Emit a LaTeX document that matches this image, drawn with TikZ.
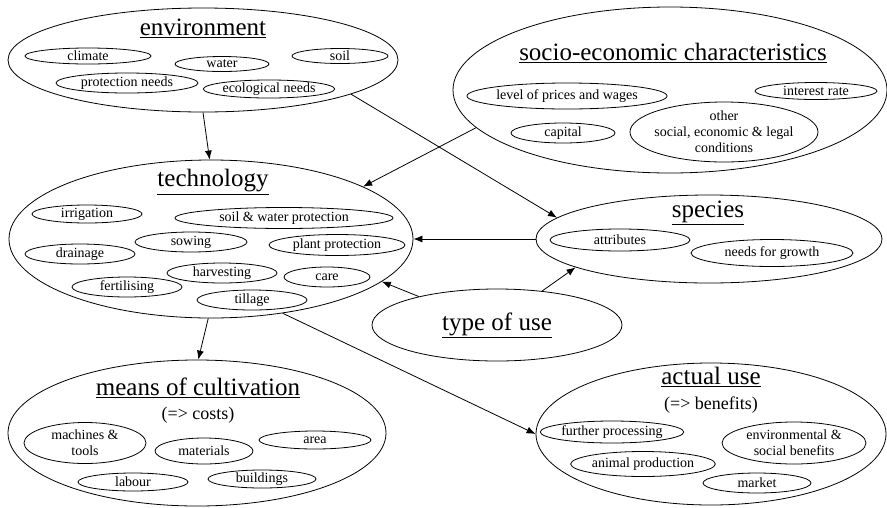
\documentclass[tikz,border=0pt]{standalone}
\usepackage{fontspec}
\setmainfont{Liberation Serif}
\usetikzlibrary{shapes.geometric, positioning, arrows.meta}

\tikzset{
  wh/.style 2 args={minimum width=#1pt, minimum height=#2pt},
  group/.style={ellipse, draw, line width=0.8pt, inner sep=0pt},
  item/.style={ellipse, draw, line width=0.8pt, inner sep=0pt, align=center,
    font=\fontsize{14}{16}\selectfont},
  heading/.style={font=\fontsize{25}{28}\selectfont},
  note/.style={font=\fontsize{18}{20}\selectfont},
}

\begin{document}
\begin{tikzpicture}[x=1pt, y=-1pt, >={Latex[length=9pt,width=7pt]}, line width=0.8pt]
    \useasboundingbox (0,0) rectangle (887,507);

    % environment
    \node[group, wh={390}{104}] (env) at (203,60) {};
    \node[heading] (envT) at (203,28) {\underline{environment}};
    \node[item, wh={126}{16}] (climate) at (88,56) {climate};
    \node[item, wh={94}{15}] (water) at (222,64) {water};
    \node[item, wh={96}{15}] (soil) at (340,56) {soil};
    \node[item, wh={142}{20}] (protect) at (127,83) {protection needs};
    \node[item, wh={126}{18}] (ecol) at (269,89) {ecological needs};

    % socio-economic characteristics
    \node[group, wh={434}{166}] (socio) at (670,90) {};
    \node[heading] (socioT) at (673,53) {\underline{socio-economic characteristics}};
    \node[item, wh={190}{26}] (prices) at (567,96) {level of prices and wages};
    \node[item, wh={122}{17}] (interest) at (816,91) {interest rate};
    \node[item, wh={104}{20}] (capital) at (563,133) {capital};
    \node[item, wh={188}{60}, inner sep=-4pt] (other) at (724,132) {other\\social, economic \& legal\\conditions};

    % technology
    \node[group, wh={404}{158}] (tech) at (211,239) {};
    \node[heading] (techT) at (213,182) {\underline{technology}};
    \node[item, wh={110}{18}] (irrig) at (87,214) {irrigation};
    \node[item, wh={218}{21}] (swprot) at (284,218) {soil \& water protection};
    \node[item, wh={112}{20}] (sowing) at (191,242) {sowing};
    \node[item, wh={110}{20}] (drain) at (80,254) {drainage};
    \node[item, wh={136}{21}] (plant) at (337,245) {plant protection};
    \node[item, wh={110}{20}] (harvest) at (222,273) {harvesting};
    \node[item, wh={86}{20}] (care) at (327,277) {care};
    \node[item, wh={110}{20}] (fert) at (127,287) {fertilising};
    \node[item, wh={110}{20}] (tillage) at (252,300) {tillage};

    % species
    \node[group, wh={346}{88}] (spec) at (709,239) {};
    \node[heading] (specT) at (708,213) {\underline{species}};
    \node[item, wh={140}{22}] (attr) at (620,240) {attributes};
    \node[item, wh={162}{27}] (needs) at (772,253) {needs for growth};

    % type of use
    \node[group, wh={250}{72}, heading] (type) at (497,325) {\underline{type of use}};

    % means of cultivation
    \node[group, wh={378}{146}] (means) at (197,433) {};
    \node[heading] (meansT) at (198,388) {\underline{means of cultivation}};
    \node[note] (costs) at (198,415) {(=> costs)};
    \node[item, wh={122}{41}, inner sep=-2pt] (machines) at (85,443) {machines \&\\tools};
    \node[item, wh={98}{26}] (mater) at (204,451) {materials};
    \node[item, wh={112}{18}] (area) at (315,440) {area};
    \node[item, wh={110}{18}] (labour) at (133,482) {labour};
    \node[item, wh={108}{18}] (build) at (262,479) {buildings};

    % actual use
    \node[group, wh={350}{142}] (actual) at (711,434) {};
    \node[heading] (actualT) at (711,377) {\underline{actual use}};
    \node[note] (benefits) at (711,405) {(=> benefits)};
    \node[item, wh={138}{22}] (further) at (612,432) {further processing};
    \node[item, wh={144}{42}, inner sep=-2pt] (envben) at (794,443) {environmental \&\\social benefits};
    \node[item, wh={136}{25}] (animal) at (643,464) {animal production};
    \node[item, wh={108}{20}] (market) at (757,483) {market};

    \draw[->] (env.-90) -- (tech.91);
    \draw[->] (env.-13) -- (spec.172);
    \draw[->] (socio.191) -- (tech.19);
    \draw[->] (spec.west) -- (tech.east);
    \draw[->] (type.160) -- (tech.-14);
    \draw[->] (type.37) -- (spec.192);
    \draw[->] (tech.-92) -- (means.89);
    \draw[->] (tech.-46) -- (actual.west);
\end{tikzpicture}
\end{document}
